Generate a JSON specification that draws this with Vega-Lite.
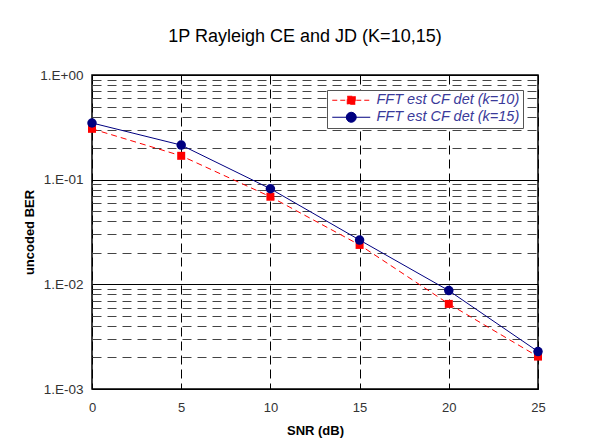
{
  "$schema": "https://vega.github.io/schema/vega-lite/v6.json",
  "width": 446,
  "height": 314,
  "autosize": "none",
  "padding": {"left": 92, "top": 75, "right": 64, "bottom": 58},
  "background": "white",
  "title": {
    "text": "1P Rayleigh CE and JD (K=10,15)",
    "fontSize": 18,
    "fontWeight": "normal",
    "font": "Liberation Sans",
    "color": "black",
    "anchor": "middle",
    "offset": 22,
    "dx": -10
  },
  "data": {
    "values": [
      {"snr": 0, "ber": 0.306, "series": "FFT est CF det (k=10)"},
      {"snr": 5, "ber": 0.169, "series": "FFT est CF det (k=10)"},
      {"snr": 10, "ber": 0.0687, "series": "FFT est CF det (k=10)"},
      {"snr": 15, "ber": 0.0238, "series": "FFT est CF det (k=10)"},
      {"snr": 20, "ber": 0.0065, "series": "FFT est CF det (k=10)"},
      {"snr": 25, "ber": 0.00204, "series": "FFT est CF det (k=10)"},
      {"snr": 0, "ber": 0.348, "series": "FFT est CF det (k=15)"},
      {"snr": 5, "ber": 0.214, "series": "FFT est CF det (k=15)"},
      {"snr": 10, "ber": 0.0819, "series": "FFT est CF det (k=15)"},
      {"snr": 15, "ber": 0.0265, "series": "FFT est CF det (k=15)"},
      {"snr": 20, "ber": 0.00871, "series": "FFT est CF det (k=15)"},
      {"snr": 25, "ber": 0.00228, "series": "FFT est CF det (k=15)"}
    ]
  },
  "encoding": {
    "x": {
      "field": "snr",
      "type": "quantitative",
      "scale": {"domain": [0, 25], "nice": false},
      "axis": {
        "title": "SNR (dB)",
        "values": [0, 5, 10, 15, 20, 25],
        "ticks": false,
        "domain": false,
        "labelFlush": false,
        "labelPadding": 12,
        "labelFontSize": 13,
        "labelColor": "#333333",
        "labelFont": "Liberation Sans",
        "titleFont": "Liberation Sans",
        "titleFontSize": 13,
        "titleFontWeight": "bold",
        "titleColor": "black",
        "titlePadding": 10,
        "gridColor": "black",
        "gridDash": [9, 5],
        "gridWidth": 1,
        "gridOpacity": 1
      }
    },
    "y": {
      "field": "ber",
      "type": "quantitative",
      "scale": {"type": "log", "domain": [0.001, 1], "nice": false},
      "axis": {
        "title": "uncoded BER",
        "values": [0.001, 0.002, 0.003, 0.004, 0.005, 0.006, 0.007, 0.008, 0.009, 0.01, 0.02, 0.03, 0.04, 0.05, 0.06, 0.07, 0.08, 0.09, 0.1, 0.2, 0.3, 0.4, 0.5, 0.6, 0.7, 0.8, 0.9, 1],
        "labelExpr": "abs(log(datum.value)/LN10 - round(log(datum.value)/LN10)) < 0.001 ? ('1.E' + (round(log(datum.value)/LN10) < 0 ? '-' : '+') + '0' + abs(round(log(datum.value)/LN10))) : ''",
        "ticks": false,
        "domain": false,
        "labelPadding": 9,
        "labelFontSize": 13.5,
        "labelColor": "#333333",
        "labelFont": "Liberation Sans",
        "titleFont": "Liberation Sans",
        "titleFontSize": 13,
        "titleFontWeight": "bold",
        "titleColor": "black",
        "titlePadding": 3,
        "gridOpacity": 1,
        "gridWidth": 1,
        "gridColor": {"condition": {"test": "abs(log(datum.value)/LN10 - round(log(datum.value)/LN10)) < 0.001", "value": "black"}, "value": "#444444"},
        "gridDash": {"condition": {"test": "abs(log(datum.value)/LN10 - round(log(datum.value)/LN10)) < 0.001", "value": []}, "value": [9, 6]}
      }
    },
    "color": {
      "field": "series",
      "type": "nominal",
      "scale": {"domain": ["FFT est CF det (k=10)", "FFT est CF det (k=15)"], "range": ["#ff0000", "#000080"]},
      "legend": {
        "title": null,
        "orient": "top-right",
        "offset": 15,
        "padding": 3,
        "fillColor": "white",
        "strokeColor": "#555555",
        "labelFont": "Liberation Sans",
        "labelFontStyle": "italic",
        "labelFontSize": 14.5,
        "labelColor": "#3a3a9a",
        "labelOffset": 18,
        "symbolOffset": 14,
        "rowPadding": 2,
        "symbolSize": 100,
        "symbolStrokeWidth": 1,
        "encode": {
          "symbols": {
            "update": {
              "shape": {"signal": "datum.value === 'FFT est CF det (k=10)' ? 'M-3.8,0H3.8M-0.8,-0.8H0.8V0.8H-0.8Z' : 'M-3.8,0H3.8M1,0A1,1,0,1,1,-1,0A1,1,0,1,1,1,0Z'"},
              "size": {"value": 100},
              "stroke": {"signal": "datum.value === 'FFT est CF det (k=10)' ? '#ff0000' : '#000080'"},
              "fill": {"signal": "datum.value === 'FFT est CF det (k=10)' ? '#ff0000' : '#000080'"},
              "strokeWidth": {"value": 1},
              "strokeOpacity": {"value": 1},
              "strokeDash": {"signal": "datum.value === 'FFT est CF det (k=10)' ? [5, 3] : []"},
              "fillOpacity": {"value": 1},
              "opacity": {"value": 1}
            }
          }
        }
      }
    }
  },
  "layer": [
    {
      "transform": [{"filter": "datum.series === 'FFT est CF det (k=10)'"}],
      "mark": {"type": "line", "strokeWidth": 1, "strokeDash": [6, 4], "clip": false}
    },
    {
      "transform": [{"filter": "datum.series === 'FFT est CF det (k=15)'"}],
      "mark": {"type": "line", "strokeWidth": 1, "clip": false}
    },
    {
      "transform": [{"filter": "datum.series === 'FFT est CF det (k=10)'"}],
      "mark": {"type": "point", "shape": "square", "size": 64, "filled": true, "opacity": 1, "clip": false}
    },
    {
      "transform": [{"filter": "datum.series === 'FFT est CF det (k=15)'"}],
      "mark": {"type": "point", "shape": "circle", "size": 90, "filled": true, "opacity": 1, "clip": false}
    }
  ],
  "config": {
    "view": {"stroke": "black", "strokeWidth": 1.5}
  }
}
